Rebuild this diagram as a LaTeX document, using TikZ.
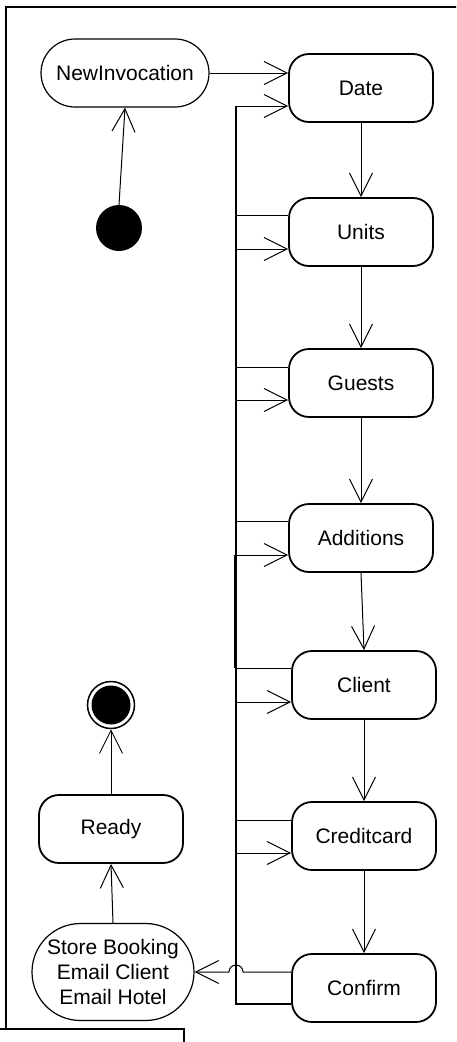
\documentclass[tikz,border=0pt]{standalone}
\usepackage{fontspec}
\setmainfont{Liberation Sans}
\usetikzlibrary{arrows.meta,shapes.misc}
\tikzset{
  act/.style={draw, line width=1.8pt, rounded corners=20pt, minimum width=144pt, minimum height=68pt, inner sep=0pt},
  stadium/.style={draw, line width=1.2pt, rounded rectangle, inner sep=0pt},
  conn/.style={draw, line width=1pt},
  arr/.style={draw, line width=1pt, -{Straight Barb[length=23pt,width=23pt]}},
  barline/.style={draw, line width=1.8pt},
  frameline/.style={draw, line width=2pt},
}
\begin{document}
\begin{tikzpicture}[x=1pt, y=-1pt, font=\fontsize{21pt}{25pt}\selectfont]
\useasboundingbox (0,0) rectangle (456,1042);
\clip (0,0) rectangle (456,1042);
% frame
\draw[frameline] (460,7) -- (6,7) -- (6,1029);
\draw[frameline] (-2,1029) -- (184,1029) -- (184,1046);
% nodes
\node[stadium, minimum width=168pt, minimum height=68pt] (new) at (125,73) {NewInvocation};
\node[circle, fill, minimum size=46pt, inner sep=0pt] (init) at (119,228) {};
\node[act] (date) at (361,88) {Date};
\node[act] (units) at (361,232) {Units};
\node[act] (guests) at (361,383) {Guests};
\node[act] (additions) at (361,538) {Additions};
\node[act] (client) at (364,685) {Client};
\node[act] (credit) at (364,836) {Creditcard};
\node[act] (confirm) at (364,988) {Confirm};
\node[act] (ready) at (111,829) {Ready};
\node[stadium, minimum width=162pt, minimum height=97pt, align=center] (store) at (113,972) {Store Booking\\Email Client\\Email Hotel};
\node[circle, draw, line width=1.5pt, minimum size=47pt, inner sep=0pt] (final) at (111,705) {};
\fill (final.center) circle (19.5pt);
% bar coordinates
\coordinate (bartop) at (236,106);
\coordinate (barbot) at (236,1004);
\coordinate (u1) at (236,215); \coordinate (u2) at (236,249);
\coordinate (g1) at (236,367); \coordinate (g2) at (236,400);
\coordinate (a1) at (236,521); \coordinate (a2) at (236,555);
\coordinate (c1) at (236,668); \coordinate (c2) at (236,702);
\coordinate (k1) at (236,820); \coordinate (k2) at (236,853);
\coordinate (hopR) at (243,972);
\coordinate (hopL) at (229,972);
% bar
\draw[barline] (bartop) -- (barbot) -- (confirm.west |- barbot);
\draw[barline] (235,555) -- (235,668);
% main flow
\draw[arr] (init.north) -- (new.south);
\draw[arr] (new.east) -- (date.west |- new.east);
\draw[arr] (bartop) -- (date.west |- bartop);
\draw[arr] (date.south) -- (units.north);
\draw[arr] (units.south) -- (guests.north);
\draw[arr] (guests.south) -- (additions.north);
\draw[arr] (additions.south) -- (client.north);
\draw[arr] (client.south) -- (credit.north);
\draw[arr] (credit.south) -- (confirm.north);
% loops to bar
\draw[conn] (units.west |- u1) -- (u1);
\draw[arr] (u2) -- (units.west |- u2);
\draw[conn] (guests.west |- g1) -- (g1);
\draw[arr] (g2) -- (guests.west |- g2);
\draw[conn] (additions.west |- a1) -- (a1);
\draw[arr] (a2) -- (additions.west |- a2);
\draw[conn] (client.west |- c1) -- (c1);
\draw[arr] (c2) -- (client.west |- c2);
\draw[conn] (credit.west |- k1) -- (k1);
\draw[arr] (k2) -- (credit.west |- k2);
% confirm to store with hop
\draw[arr] (confirm.west |- hopR) -- (hopR) arc[start angle=0, end angle=180, radius=7pt] -- (store.east);
\draw[arr] (store.north) -- (ready.south);
\draw[arr] (ready.north) -- (final.south);
\end{tikzpicture}
\end{document}
